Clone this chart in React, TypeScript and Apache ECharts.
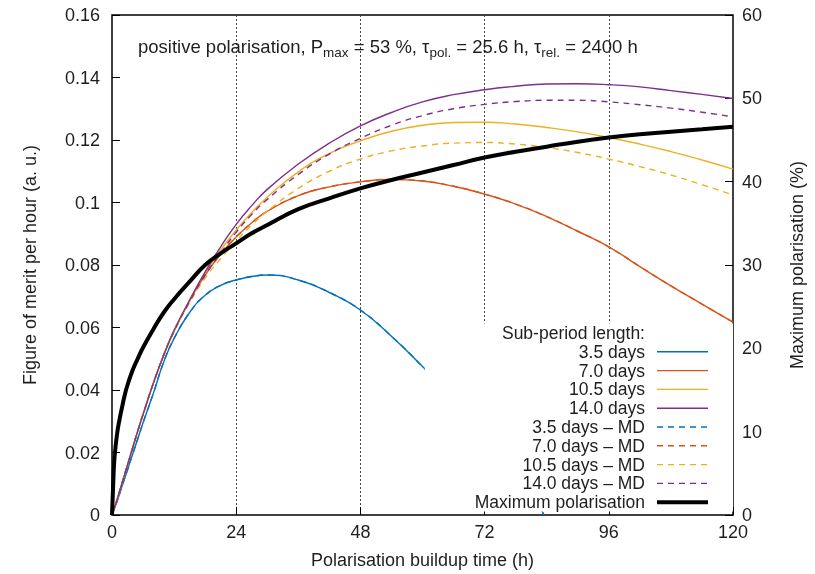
import React, { useEffect, useRef } from "react";
import * as echarts from "echarts";

// Polarisation buildup time (h) sampling grid for the sub-period curves
const hours = [0, 1, 2, 3, 4, 5, 6, 8, 10, 12, 15, 18, 21, 24, 27, 30, 36, 42, 48, 54, 60, 66, 72, 78, 84, 90, 96, 102, 108, 114, 120];
// 3.5-day curve runs down to zero (its tail is hidden behind the key)
const hours35 = [0, 1, 2, 3, 4, 5, 6, 8, 10, 12, 15, 18, 21, 24, 27, 30, 36, 42, 48, 54, 60, 66, 72, 78, 83.5];
const maxPolHours = [0, 0.25, 0.5, 1, 1.5, 2, 2.5, 3, 4, 5, 6, 8, 10, 12, 15, 18, 21, 24, 27, 30, 36, 42, 48, 54, 60, 66, 72, 78, 84, 90, 96, 102, 108, 114, 120];

// Figure of merit per hour (a. u.)
const fom35 = [0, 0.0045, 0.0095, 0.0145, 0.0195, 0.0245, 0.0295, 0.039, 0.049, 0.0565, 0.0648, 0.0703, 0.0735, 0.0752, 0.0763, 0.0768, 0.0752, 0.0712, 0.0656, 0.0572, 0.0475, 0.0372, 0.0262, 0.0143, 0];
const fom70 = [0, 0.005, 0.0105, 0.016, 0.0215, 0.027, 0.0322, 0.0422, 0.0512, 0.0588, 0.0685, 0.0768, 0.0835, 0.089, 0.0935, 0.0972, 0.1022, 0.105, 0.1066, 0.1074, 0.1069, 0.1052, 0.1027, 0.0995, 0.0955, 0.0908, 0.0858, 0.0795, 0.0733, 0.0675, 0.0617];
const fom105 = [0, 0.005, 0.0105, 0.016, 0.0215, 0.027, 0.0322, 0.0422, 0.0512, 0.059, 0.0686, 0.0775, 0.0848, 0.0912, 0.0968, 0.1017, 0.1098, 0.1157, 0.1197, 0.1228, 0.1247, 0.1256, 0.1257, 0.1251, 0.124, 0.1226, 0.1208, 0.1187, 0.1163, 0.1136, 0.1107];
const fom140 = [0, 0.005, 0.0105, 0.016, 0.0215, 0.027, 0.0322, 0.0422, 0.0512, 0.0591, 0.0688, 0.0778, 0.0858, 0.093, 0.099, 0.1042, 0.1123, 0.119, 0.1245, 0.1288, 0.1322, 0.1345, 0.1361, 0.1372, 0.1379, 0.138, 0.1377, 0.137, 0.1358, 0.1346, 0.1333];
const fom35MD = [0, 0.0045, 0.0095, 0.0145, 0.0195, 0.0245, 0.0295, 0.039, 0.049, 0.0565, 0.0648, 0.0703, 0.0735, 0.0752, 0.0763, 0.0768, 0.0752, 0.0712, 0.0656, 0.0572, 0.0475, 0.0372, 0.0262, 0.0143, 0];
const fom70MD = [0, 0.005, 0.0105, 0.016, 0.0215, 0.027, 0.0322, 0.0422, 0.0512, 0.0588, 0.0685, 0.0768, 0.0835, 0.089, 0.0935, 0.0972, 0.1022, 0.105, 0.1066, 0.1074, 0.1069, 0.1052, 0.1027, 0.0995, 0.0955, 0.0908, 0.0858, 0.0795, 0.0733, 0.0675, 0.0617];
const fom105MD = [0, 0.005, 0.0105, 0.016, 0.0215, 0.027, 0.0322, 0.0422, 0.0512, 0.0588, 0.068, 0.0758, 0.082, 0.0877, 0.0928, 0.0972, 0.1045, 0.11, 0.1139, 0.1165, 0.1181, 0.119, 0.1192, 0.1187, 0.1176, 0.116, 0.1139, 0.1115, 0.1088, 0.1057, 0.1024];
const fom140MD = [0, 0.005, 0.0105, 0.016, 0.0215, 0.027, 0.0322, 0.0422, 0.0512, 0.0589, 0.0683, 0.0768, 0.0838, 0.0905, 0.0962, 0.101, 0.109, 0.1155, 0.1205, 0.1247, 0.1278, 0.13, 0.1314, 0.1323, 0.1327, 0.1327, 0.1322, 0.1313, 0.1302, 0.1289, 0.1274];

// Maximum polarisation (%), right axis
const maxPol = [0, 4.0, 7.0, 9.8, 11.6, 13.1, 14.5, 15.6, 17.4, 18.8, 20.1, 22.3, 24.3, 25.9, 28.0, 30.0, 31.4, 32.6, 33.8, 34.8, 36.7, 38.0, 39.2, 40.2, 41.1, 42.0, 42.9, 43.6, 44.2, 44.8, 45.3, 45.7, 46.0, 46.3, 46.6];

const legendTitle = "Sub-period length:";
const seriesNames = ["3.5 days", "7.0 days", "10.5 days", "14.0 days", "3.5 days – MD", "7.0 days – MD", "10.5 days – MD", "14.0 days – MD", "Maximum polarisation"];

const FONT = "'Liberation Sans', Arial, Helvetica, sans-serif";
const TXT = "#1e1e1e";
const BLUE = "#0072bd";
const RED = "#d95319";
const YELLOW = "#edb120";
const PURPLE = "#7e2f8e";

const zip = (xs: number[], ys: number[]) => xs.map((x, i) => [x, ys[i]]);

function curve(name: string, xs: number[], ys: number[], color: string, dashed: boolean) {
  return {
    type: "line",
    name,
    data: zip(xs, ys),
    symbol: "none",
    showSymbol: false,
    smooth: 0.5,
    color,
    itemStyle: { color },
    lineStyle: { color, width: 1.4, type: dashed ? [6, 5] : "solid" },
    silent: true,
  };
}

export default function App() {
  const ref = useRef<HTMLDivElement>(null);

  useEffect(() => {
    if (!ref.current) return;
    const chart = echarts.init(ref.current, null, { renderer: "svg" });
    const axisText = { color: TXT, fontSize: 18, fontFamily: FONT };

    chart.setOption({
      animation: false,
      grid: {
        left: 112,
        right: 82,
        top: 15,
        bottom: 56,
        show: true,
        borderColor: "#000",
        borderWidth: 1.5,
        backgroundColor: "transparent",
      },
      xAxis: {
        type: "value",
        min: 0,
        max: 120,
        interval: 24,
        name: "Polarisation buildup time (h)",
        nameLocation: "middle",
        nameGap: 36,
        nameTextStyle: axisText,
        axisLine: { show: false },
        axisTick: { show: true, inside: true, length: 8, lineStyle: { color: "#000", width: 1 } },
        axisLabel: { ...axisText, margin: 8 },
        splitLine: { show: true, lineStyle: { color: "#444", width: 1, type: [2, 2] } },
      },
      yAxis: [
        {
          type: "value",
          position: "left",
          min: 0,
          max: 0.16,
          interval: 0.02,
          name: "Figure of merit per hour (a. u.)",
          nameLocation: "middle",
          nameGap: 73,
          nameRotate: 90,
          nameTextStyle: axisText,
          axisLine: { show: false },
          axisTick: { show: true, inside: true, length: 8, lineStyle: { color: "#000", width: 1 } },
          axisLabel: { ...axisText, margin: 12 },
          splitLine: { show: false },
        },
        {
          type: "value",
          position: "right",
          min: 0,
          max: 60,
          interval: 10,
          name: "Maximum polarisation (%)",
          nameLocation: "middle",
          nameGap: 55,
          nameRotate: 90,
          nameTextStyle: axisText,
          axisLine: { show: false },
          axisTick: { show: true, inside: true, length: 8, lineStyle: { color: "#000", width: 1 } },
          axisLabel: { ...axisText, margin: 9 },
          splitLine: { show: false },
        },
      ],
      legend: {
        orient: "vertical",
        right: 82,
        top: 323.6,
        align: "right",
        itemWidth: 51,
        itemHeight: 14,
        itemGap: 0,
        padding: [0, 23, 0, 50],
        backgroundColor: "#fff",
        selectedMode: false,
        itemStyle: { opacity: 0 },
        lineStyle: { width: "inherit" },
        textStyle: { color: TXT, fontSize: 17.5, fontFamily: FONT, lineHeight: 18.8, padding: [0, 7, 0, 0] },
        data: [{ name: legendTitle, icon: "none" }, ...seriesNames],
      },
      graphic: [
        {
          type: "text",
          left: 138,
          top: 37,
          z: 10,
          style: {
            text: "{n|positive polarisation, P}{s|max}{n| = 53 %, τ}{s|pol.}{n| = 25.6 h, τ}{s|rel.}{n| = 2400 h}",
            fill: TXT,
            fontFamily: FONT,
            fontSize: 18.5,
            rich: {
              n: { fill: TXT, fontFamily: FONT, fontSize: 18.5 },
              s: { fill: TXT, fontFamily: FONT, fontSize: 13.5, padding: [11, 0, 0, 0] },
            },
          },
        },
      ],
      series: [
        { type: "line", name: legendTitle, data: [], symbol: "none", silent: true },
        curve(seriesNames[0], hours35, fom35, BLUE, false),
        curve(seriesNames[1], hours, fom70, RED, false),
        curve(seriesNames[2], hours, fom105, YELLOW, false),
        curve(seriesNames[3], hours, fom140, PURPLE, false),
        curve(seriesNames[4], hours35, fom35MD, BLUE, true),
        curve(seriesNames[5], hours, fom70MD, RED, true),
        curve(seriesNames[6], hours, fom105MD, YELLOW, true),
        curve(seriesNames[7], hours, fom140MD, PURPLE, true),
        {
          type: "line",
          name: seriesNames[8],
          yAxisIndex: 1,
          data: zip(maxPolHours, maxPol),
          symbol: "none",
          showSymbol: false,
          smooth: 0.5,
          color: "#000",
          itemStyle: { color: "#000" },
          lineStyle: { color: "#000", width: 4 },
          silent: true,
        },
      ],
    });

    return () => chart.dispose();
  }, []);

  return <div ref={ref} style={{ position: "fixed", left: 0, top: 0, width: 815, height: 574 }} />;
}
